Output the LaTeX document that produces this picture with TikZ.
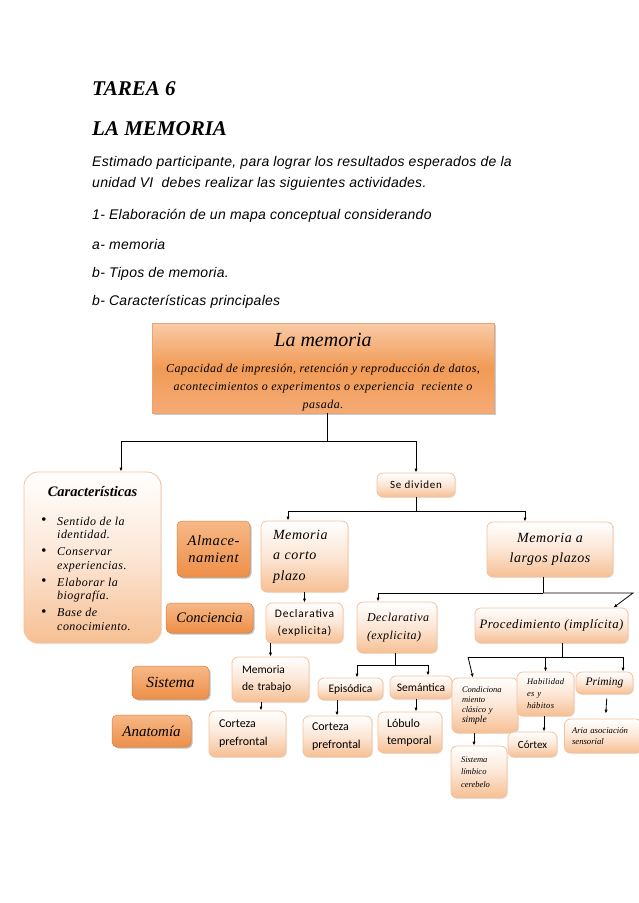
\documentclass[tikz,border=0pt]{standalone}
\usepackage{fontspec}
\setmainfont{Liberation Serif}
\newfontfamily\arialf[LetterSpace=2]{Liberation Sans}
\newfontfamily\sersp[LetterSpace=4]{Liberation Serif}
\newfontfamily\calf{Carlito}
\newfontfamily\calsp[LetterSpace=7]{Carlito}
\usetikzlibrary{shadows,arrows.meta,calc}
\definecolor{lline}{HTML}{F2C29B}
\definecolor{lbot}{HTML}{F6BF93}
\definecolor{lmid}{HTML}{FCE6D5}
\definecolor{otop}{HTML}{F7B887}
\definecolor{obot}{HTML}{EE8F48}
\definecolor{oline}{HTML}{D98040}
\definecolor{ttop}{HTML}{F9CBA7}
\definecolor{tmid}{HTML}{F19A55}
\definecolor{tbot}{HTML}{F5AB75}
\newcommand\fs[2]{\fontsize{#1}{#2}\selectfont}
\newcommand\bul{\makebox[16pt][l]{\raisebox{0.2pt}{\fontsize{15}{13.5}\selectfont\textbullet}}}
\begin{document}
\begin{tikzpicture}[x=1pt,y=-1pt,
  lbox/.style={rounded corners=6pt, draw=lline, line width=0.8pt, top color=white, bottom color=lbot, middle color=lmid,
    drop shadow={shadow xshift=1pt,shadow yshift=-1pt,fill=black!15}, inner sep=0pt},
  dbox/.style={rounded corners=5pt, draw=oline, line width=0.5pt, top color=otop, bottom color=obot,
    drop shadow={shadow xshift=1.5pt,shadow yshift=-1.5pt,fill=black!50}, inner sep=0pt, align=center},
  topbox/.style={draw=oline!70, line width=0.5pt, top color=ttop, bottom color=tbot, middle color=tmid,
    drop shadow={shadow xshift=2pt,shadow yshift=-2pt,fill=black!40}, inner sep=0pt},
  arr/.style={-{Latex[length=4pt,width=3.2pt]}, line width=0.8pt},
  ln/.style={line width=0.8pt},
  sz/.style 2 args={minimum width=#1pt, minimum height=#2pt},
]
\useasboundingbox (0,0) rectangle (638,903);

% header
\node[anchor=base west, inner sep=0pt, font=\bfseries\itshape\fs{21}{25}] (t1) at (92,95) {TAREA 6};
\node[anchor=base west, inner sep=0pt, font=\bfseries\itshape\fs{21}{25}] (t2) at (92,135) {LA MEMORIA};
\tikzset{hd/.style={anchor=base west, inner sep=0pt, font=\arialf\itshape\fs{14}{17}}}
\node[hd] (b1) at (92,166) {Estimado participante, para lograr los resultados esperados de la};
\node[hd] (b2) at (92,187) {unidad VI\ \ debes realizar las siguientes actividades.};
\node[hd] (b3) at (92,219) {1- Elaboración de un mapa conceptual considerando};
\node[hd] (b4) at (92,249) {a- memoria};
\node[hd] (b5) at (92,277) {b- Tipos de memoria.};
\node[hd] (b6) at (92,305) {b- Características principales};

% top box
\node[topbox, sz={342}{90}] (top) at (323,368) {};
\node[anchor=base, inner sep=0pt, font=\itshape\fs{20}{24}] (tt) at (323,346) {La memoria};
\tikzset{sub/.style={anchor=base, inner sep=0pt, font=\sersp\itshape\fs{12}{18}}}
\node[sub] (s1) at (323,372) {Capacidad de impresión, retención y reproducción de datos,};
\node[sub] (s2) at (323,390) {acontecimientos o experimentos o experiencia\ \ reciente o};
\node[sub] (s3) at (323,408) {pasada.};

% Caracteristicas
\node[lbox, rounded corners=14pt, sz={137}{171}] (car) at (92.5,557.5) {};
\node[anchor=base, inner sep=0pt, font=\bfseries\itshape\fs{14.5}{17}] (ct) at (92.5,496) {Características};
\node[anchor=north west, inner sep=0pt, font=\sersp\itshape\fs{12}{13.5}] (cl) at (41,515.5) {%
\begin{tabular}{@{}l@{}l@{}}
\bul & Sentido de la\\ & identidad.\\[3.5pt]
\bul & Conservar\\ & experiencias.\\[3.5pt]
\bul & Elaborar la\\ & biografía.\\[3.5pt]
\bul & Base de\\ & conocimiento.
\end{tabular}};

% dark boxes
\node[dbox, sz={73}{56}, font=\sersp\itshape\fs{14.5}{17}] (alm) at (213.5,549) {Almace-\\namient};
\node[dbox, sz={87}{30}, font=\itshape\fs{14.5}{17}] (con) at (209.5,618) {Conciencia};
\node[dbox, sz={77}{33}, font=\itshape\fs{15.5}{17}] (sis) at (170.5,682.5) {Sistema};
\node[dbox, sz={79}{32}, font=\itshape\fs{15}{17}] (ana) at (151.5,731) {Anatomía};

% light boxes
\node[lbox, sz={87}{71}, text width=63pt, align=left, font=\sersp\itshape\fs{14}{20.5}] (mcp) at (304.5,556.5) {Memoria\\a corto\\plazo};
\node[lbox, sz={78}{24}, font=\calsp\fs{11}{13}] (sed) at (416,485) {Se dividen};
\node[lbox, sz={126}{55}, align=center, font=\sersp\itshape\fs{14}{20.5}] (mlp) at (550,549.5) {Memoria a\\largos plazos};
\node[lbox, sz={77}{40}, align=center, font=\calsp\fs{11.5}{17}] (dec1) at (304.5,623) {Declarativa\\(explicita)};
\node[lbox, sz={80}{51}, text width=60pt, align=left, font=\sersp\itshape\fs{12}{18}] (dec2) at (397,627.5) {Declarativa\\(explicita)};
\node[lbox, sz={153}{35}, font=\sersp\itshape\fs{12.8}{14}] (proc) at (551.5,625.5) {Procedimiento (implícita)};
\node[lbox, sz={77}{45}, text width=57pt, align=left, font=\calf\fs{11.5}{17}] (mdt) at (270.5,679.5) {Memoria\\de trabajo};
\node[lbox, sz={77}{46}, text width=57pt, align=left, font=\calf\fs{12}{18}] (cp1) at (247.5,734) {Corteza\\prefrontal};
\node[lbox, sz={65}{22}, font=\calf\fs{11.5}{13}] (epi) at (350.5,689) {Episódica};
\node[lbox, sz={62}{23}, font=\calf\fs{11.5}{13}] (sem) at (421,687.5) {Semántica};
\node[lbox, sz={69}{41}, text width=51pt, align=left, font=\calf\fs{12}{18}] (cp2) at (337.5,736.5) {Corteza\\prefrontal};
\node[lbox, sz={64}{41}, text width=46pt, align=left, font=\calf\fs{12}{17}] (lob) at (410,732.5) {Lóbulo\\temporal};
\node[lbox, sz={66}{55}, text width=46pt, align=left, font=\itshape\fs{8.5}{10}] (cond) at (485,705.5) {Condiciona\\miento\\clásico y\\{\fs{9.5}{12.5}simple}};
\node[lbox, sz={57}{44}, text width=37pt, align=left, font=\sersp\itshape\fs{8.5}{12}] (hab) at (545.5,694) {Habilidad\\es y\\hábitos};
\node[lbox, sz={57}{22}, font=\itshape\fs{11.5}{13}] (pri) at (604.5,683) {Priming};
\node[lbox, sz={56}{52}, text width=36pt, align=left, font=\itshape\fs{8.5}{12.5}] (sl) at (479,772) {Sistema\\límbico\\cerebelo};
\node[lbox, sz={49}{25}, font=\calf\fs{11}{13}] (cor) at (532.5,744.5) {Córtex};
\node[lbox, sz={77}{34}, text width=62pt, align=left, font=\itshape\fs{8.7}{11}] (aria) at (603,736) {Aria asociación\\sensorial};

% connectors
\coordinate (jt) at (327,441);
\coordinate (jl) at (121,441);
\coordinate (jr) at (416,441);
\draw[ln] (top.south -| jt) -- (jt);
\draw[arr] (jt) -- (jl) -- (jl |- car.north);
\draw[arr] (jt) -- (jr) -- (sed.north);

\coordinate (js) at (416,511);
\coordinate (k1) at (288,511);
\coordinate (k2) at (525,511);
\draw[ln] (sed.south) -- (js);
\draw[arr] (js) -- (k1) -- (k1 |- mcp.north);
\draw[arr] (js) -- (k2) -- (k2 |- mlp.north);

\coordinate (jm) at (543,593);
\coordinate (m1) at (378,593);
\coordinate (m2) at (633,593);
\draw[ln] (mlp.south -| jm) -- (jm);
\draw[arr] (jm) -- (m1) -- (m1 |- dec2.north);
\draw[arr] (jm) -- (m2) -- ($(proc.north east)+(-15,0)$);

\draw[arr] (mcp.south) -- (dec1.north);
\draw[arr] (dec1.south -| mdt.north) -- (mdt.north);
\draw[arr] ([xshift=-9.5pt]mdt.south) -- ([xshift=-9.5pt]mdt.south |- cp1.north);

\coordinate (jd) at (395,665);
\coordinate (d1) at (357,665);
\coordinate (d2) at (428,665);
\draw[ln] (dec2.south -| jd) -- (jd);
\draw[arr] (jd) -- (d1) -- (d1 |- epi.north);
\draw[arr] (jd) -- (d2) -- (d2 |- sem.north);
\draw[arr] ([xshift=-13.5pt]epi.south) -- ([xshift=-13.5pt]epi.south |- cp2.north);
\draw[arr] ([xshift=-5pt]sem.south) -- ([xshift=-5pt]sem.south |- lob.north);

\coordinate (jp) at (562,657);
\coordinate (q1) at (468,657);
\coordinate (q2) at (623,657);
\draw[ln] (proc.south -| jp) -- (jp);
\draw[ln] (q1) -- (q2);
\draw[arr] (q1) -- ([xshift=-12pt]cond.north);
\draw[arr] (jp -| hab.north) -- (hab.north);
\draw[arr] (q2) -- (q2 |- pri.north);
\draw[arr] ([xshift=-11pt]cond.south) -- ([xshift=-11pt]cond.south |- sl.north);
\draw[arr] ([xshift=-1.5pt]hab.south) -- ([xshift=-1.5pt]hab.south |- cor.north);
\draw[arr, shorten <=4pt, shorten >=5pt] ([xshift=2.5pt]pri.south) -- ([xshift=1pt]pri.south |- aria.north);
\end{tikzpicture}
\end{document}
